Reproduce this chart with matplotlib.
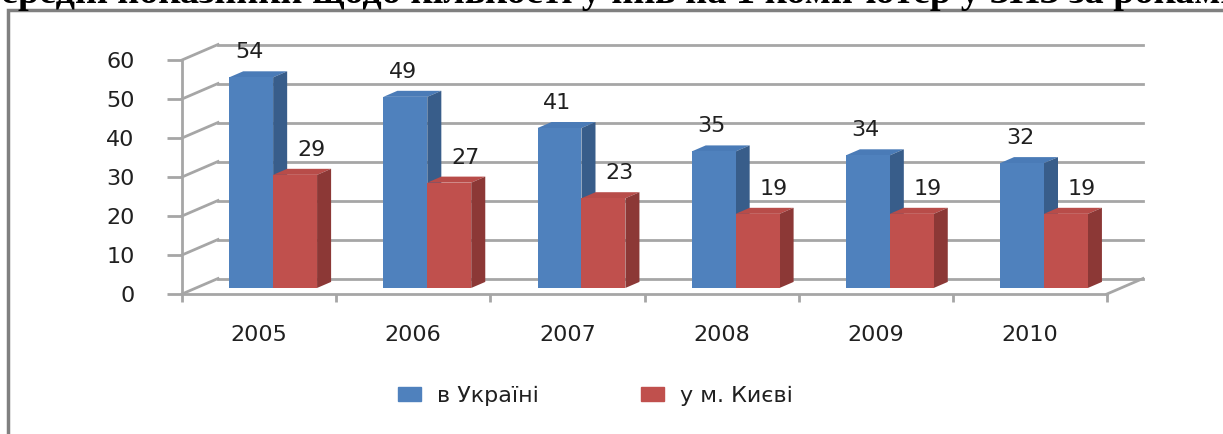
import numpy as np
import matplotlib.pyplot as plt
from matplotlib.patches import Polygon, Rectangle, Patch

# Дані
years = ["2005", "2006", "2007", "2008", "2009", "2010"]
ukraine = [54, 49, 41, 35, 34, 32]
kyiv = [29, 27, 23, 19, 19, 19]
series_names = ["в Україні", "у м. Києві"]
title = "Середні показники щодо кількості учнів на 1 комп’ютер у ЗНЗ за роками"

# Кольори (стиль Excel)
front = ["#4F81BD", "#C0504D"]
side = ["#385D8A", "#8C3836"]
top = ["#4A7BB7", "#B84C49"]
grid_c = "#A6A6A6"

W, H = 1223, 434
fig = plt.figure(figsize=(W / 100, H / 100), dpi=100)

# Рамка діаграми
fig.patches.append(Rectangle((8 / W, -0.1), 1.2, 1 - 10 / H + 0.1, transform=fig.transFigure,
                             fill=False, edgecolor="#808080", lw=2.5, clip_on=False))
# Заголовок (у оригіналі обрізаний зверху)
fig.text(-0.022, 1 - 3 / H, title, ha="left", va="baseline", fontsize=27.5,
         fontweight="bold", family="Liberation Serif")

# Передня площина осей
ax_l, ax_r, ax_t, ax_b = 182, 1107, 60, 294
ax = fig.add_axes([ax_l / W, (H - ax_b) / H, (ax_r - ax_l) / W, (ax_b - ax_t) / H])
ax.set_xlim(-0.5, len(years) - 0.5)
ax.set_ylim(0, 60)
ax.patch.set_alpha(0)

sx = (ax_r - ax_l) / len(years)   # пікселів на категорію
sy = (ax_b - ax_t) / 60           # пікселів на одиницю
Dx, Dy = 36 / sx, 15.5 / sy       # глибина 3D у даних
f0, f1 = 0.39, 0.78               # глибина стовпців (частки)
w = 0.285

x = np.arange(len(years))
x0, x1 = -0.5, len(years) - 0.5

# Сітка на задній і лівій стінці
for yv in range(0, 61, 10):
    ax.plot([x0 + Dx, x1 + Dx], [yv + Dy, yv + Dy], color=grid_c, lw=2, clip_on=False, zorder=1)
    ax.plot([x0, x0 + Dx], [yv, yv + Dy], color=grid_c, lw=2, clip_on=False, zorder=1)
ax.plot([x1, x1 + Dx], [0, Dy], color=grid_c, lw=2, clip_on=False, zorder=1)

# Стовпці
for i in range(len(years)):
    for k, vals in enumerate([ukraine, kyiv]):
        v = vals[i]
        xl = x[i] - w + k * w + f0 * Dx
        xr = xl + w
        b = f0 * Dy
        t = v + f0 * Dy
        ddx, ddy = (f1 - f0) * Dx, (f1 - f0) * Dy
        z = 3 + i * 6 + k * 3
        ax.add_patch(Polygon([(xl, t), (xr, t), (xr + ddx, t + ddy), (xl + ddx, t + ddy)],
                             closed=True, fc=top[k], ec="none", zorder=z, clip_on=False))
        ax.add_patch(Polygon([(xr, b), (xr + ddx, b + ddy), (xr + ddx, t + ddy), (xr, t)],
                             closed=True, fc=side[k], ec="none", zorder=z + 1, clip_on=False))
        ax.bar(xl, v, width=w, bottom=b, align="edge", color=front[k], zorder=z + 2, clip_on=False)
        off = -2 if k == 0 else 16
        ax.annotate(str(v), (xl + w / 2, t), xytext=(off * 0.72, 25 * 0.72), textcoords="offset points",
                    ha="center", va="center", fontsize=16, color="#202020", zorder=50)

# Осі
for s in ["top", "right"]:
    ax.spines[s].set_visible(False)
for s in ["left", "bottom"]:
    ax.spines[s].set_color(grid_c)
    ax.spines[s].set_linewidth(2)
    ax.spines[s].set_zorder(2)

ax.set_yticks(range(0, 61, 10))
ax.tick_params(axis="y", length=11, width=2, color=grid_c, pad=23, labelsize=16, labelcolor="#202020")
ax.set_xticks(x)
ax.set_xticklabels(years)
ax.set_xticks(np.arange(x0, x1 + 0.01, 1), minor=True)
ax.tick_params(axis="x", which="major", length=0, pad=22, labelsize=16, labelcolor="#202020")
ax.tick_params(axis="x", which="minor", length=6, width=2, color=grid_c)

# Легенда
handles = [Patch(color=front[0], label=series_names[0]), Patch(color=front[1], label=series_names[1])]
fig.legend(handles=handles, loc="center left", bbox_to_anchor=(378 / W, (H - 396) / H), ncol=2,
           frameon=False, fontsize=16, handlelength=1.05, handleheight=0.6,
           handletextpad=0.7, columnspacing=4.6, labelcolor="#202020")

fig.savefig("out.png", dpi=100)
